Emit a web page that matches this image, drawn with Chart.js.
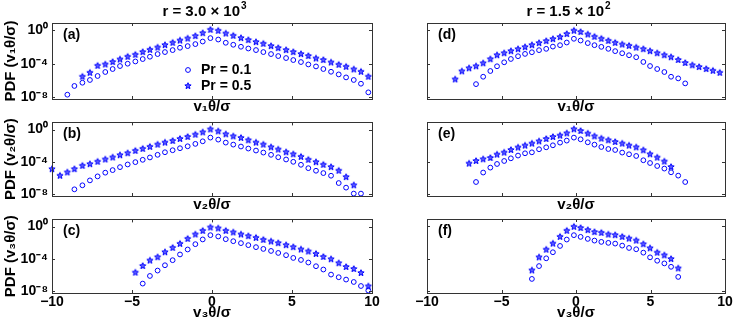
<!DOCTYPE html>
<html>
<head>
<meta charset="utf-8">
<script src="https://cdn.jsdelivr.net/npm/chart.js@4.4.1/dist/chart.umd.min.js"></script>
<style>
  html, body { margin: 0; padding: 0; background: #fff; }
  #fig { position: relative; width: 747px; height: 327px; overflow: hidden; }
  #fig canvas { position: absolute; }
</style>
</head>
<body>
<div id="fig"></div>
<script>
// velocity bins v/sigma (left column: r = 3.0e3, right column: r = 1.5e2)
const binsL = [-10.0, -9.5, -9.04, -8.6, -8.1, -7.63, -7.15, -6.67, -6.21, -5.75, -5.27, -4.79, -4.33, -3.88,
  -3.4, -2.94, -2.46, -2.0, -1.52, -1.04, -0.58, -0.1, 0.39, 0.86, 1.33, 1.81, 2.27, 2.75, 3.21, 3.69,
  4.14, 4.63, 5.08, 5.56, 6.02, 6.5, 6.96, 7.44, 7.92, 8.38, 8.86, 9.31, 9.77];
const binsR = [-8.11, -7.66, -7.18, -6.71, -6.23, -5.75, -5.3, -4.82, -4.37, -3.89, -3.42, -2.96, -2.48,
  -2.0, -1.55, -1.07, -0.62, -0.14, 0.31, 0.79, 1.24, 1.7, 2.17, 2.63, 3.1, 3.56, 4.04, 4.52, 4.97, 5.45,
  5.93, 6.38, 6.86, 7.33, 7.81, 8.26, 8.74, 9.19, 9.65];

// log10 of the PDF (null = no marker in that bin)
const a_pr01 = [null, null, -7.73, -6.68, -6.29, -5.96, -5.48, -5.0, -4.64, -4.28, -4.0, -3.73, -3.44, -3.16,
  -2.84, -2.6, -2.36, -2.08, -1.88, -1.64, -1.33, -0.92, -1.09, -1.48, -1.72, -1.96, -2.17, -2.36, -2.6, -2.84,
  -3.08, -3.32, -3.56, -3.8, -4.09, -4.33, -4.64, -4.97, -5.29, -5.65, -5.96, -6.41, -7.45];
const a_pr05 = [null, null, null, null, -5.57, -5.09, -4.25, -4.09, -3.8, -3.49, -3.17, -2.93, -2.6, -2.33,
  -2.05, -1.76, -1.48, -1.21, -0.97, -0.68, -0.32, 0.08, -0.04, -0.37, -0.64, -0.92, -1.16, -1.4, -1.6, -1.88,
  -2.12, -2.36, -2.6, -2.84, -3.08, -3.37, -3.56, -3.85, -4.13, -4.37, -4.69, -4.97, -5.57];
const b_pr01 = [null, null, null, -7.42, -6.92, -6.31, -5.81, -5.35, -5.03, -4.66, -4.33, -4.04, -3.75, -3.46,
  -3.13, -2.81, -2.56, -2.31, -2.07, -1.77, -1.45, -0.99, -1.24, -1.61, -1.86, -2.1, -2.35, -2.6, -2.85, -3.13,
  -3.43, -3.71, -4.0, -4.37, -4.79, -5.11, -5.4, -5.73, -6.64, -7.21, -7.95, -7.95, null];
const b_pr05 = [-4.91, -5.73, -5.32, -4.91, -4.49, -4.29, -3.99, -3.71, -3.46, -3.18, -2.93, -2.64, -2.39, -2.14,
  -1.86, -1.61, -1.4, -1.15, -0.9, -0.62, -0.34, 0.03, -0.21, -0.58, -0.83, -1.03, -1.32, -1.61, -1.86, -2.19,
  -2.47, -2.81, -3.06, -3.38, -3.75, -4.04, -4.37, -4.66, -5.11, -5.9, -6.92, null, null];
const c_pr01 = [null, null, null, null, null, null, null, null, null, null, null, null, -7.08, -6.13,
  -5.46, -4.8, -4.17, -3.46, -2.84, -2.18, -1.59, -1.06, -1.22, -1.56, -1.81, -2.05, -2.3, -2.55, -2.77, -3.02,
  -3.27, -3.55, -3.89, -4.14, -4.46, -4.92, -5.33, -5.96, -6.29, -6.58, -6.88, -7.38, -7.95];
const c_pr05 = [null, null, null, null, null, null, null, null, null, null, null, -5.71, -4.89, -4.21,
  -3.8, -3.18, -2.64, -2.14, -1.52, -0.97, -0.52, -0.1, -0.22, -0.52, -0.72, -0.97, -1.18, -1.39, -1.64, -1.84,
  -2.05, -2.3, -2.55, -2.84, -3.09, -3.39, -3.76, -4.05, -4.55, -5.01, -5.26, -5.76, -7.42];
const d_pr01 = [null, null, null, -6.46, -5.57, -4.88, -4.31, -3.83, -3.43, -3.1, -2.82, -2.62, -2.37, -2.21,
  -1.94, -1.77, -1.45, -1.0, -1.21, -1.52, -1.77, -1.97, -2.21, -2.49, -2.74, -2.98, -3.22, -3.79, -4.28, -4.64,
  -5.0, -5.57, -5.77, -6.37, null, null, null, null, null];
const d_pr05 = [-5.89, -4.92, -4.55, -4.31, -3.95, -3.46, -2.98, -2.74, -2.49, -2.25, -2.01, -1.77, -1.52, -1.28,
  -1.04, -0.8, -0.43, -0.03, -0.19, -0.48, -0.76, -1.0, -1.25, -1.49, -1.69, -1.85, -2.06, -2.25, -2.49, -2.74,
  -2.98, -3.22, -3.55, -3.91, -4.19, -4.4, -4.64, -4.85, -5.09];
const e_pr01 = [null, null, null, -6.52, -5.35, -4.74, -4.29, -3.92, -3.59, -3.25, -2.97, -2.85, -2.47, -2.23,
  -1.98, -1.65, -1.4, -1.03, -1.24, -1.61, -1.9, -2.19, -2.44, -2.56, -2.88, -3.09, -3.3, -3.83, -4.17, -4.54,
  -4.86, -5.32, -5.73, -6.52, null, null, null, null, null];
const e_pr05 = [null, null, -4.24, -3.92, -3.71, -3.55, -3.13, -2.88, -2.56, -2.26, -2.02, -1.77, -1.49, -1.2,
  -0.95, -0.78, -0.5, 0.0, -0.21, -0.53, -0.87, -1.15, -1.36, -1.57, -1.77, -2.02, -2.23, -2.6, -3.09, -3.5,
  -3.99, -4.66, null, null, null, null, null, null, null];
const f_pr01 = [null, null, null, null, null, null, null, null, null, null, null, -6.51, -4.92, -3.96,
  -3.21, -2.43, -1.64, -1.1, -1.31, -1.56, -1.77, -1.93, -2.05, -2.14, -2.39, -2.68, -2.84, -3.26, -3.84, -4.26,
  -4.59, -5.01, -6.26, null, null, null, null, null, null];
const f_pr05 = [null, null, null, null, null, null, null, null, null, null, null, -5.46, -3.84, -2.89,
  -2.14, -1.31, -0.56, -0.06, -0.22, -0.47, -0.72, -0.81, -1.02, -1.1, -1.31, -1.52, -1.77, -2.22, -2.72, -3.26,
  -3.59, -4.05, -5.21, null, null, null, null, null, null];

const seriesNames = ['Pr = 0.1', 'Pr = 0.5'];
const xTicks = [-10, -5, 0, 5, 10];
const yTicks = [1e-8, 1e-4, 1];
const yTickLabels = ['10\u207B\u2078', '10\u207B\u2074', '10\u2070'];
const colTitles = [['r = 3.0 \u00D7 10', '3'], ['r = 1.5 \u00D7 10', '2']];
const xTitles = ['v\u2081\u03B8/\u03C3', 'v\u2082\u03B8/\u03C3', 'v\u2083\u03B8/\u03C3'];
const yTitles = ['PDF (v\u2081\u03B8/\u03C3)', 'PDF (v\u2082\u03B8/\u03C3)', 'PDF (v\u2083\u03B8/\u03C3)'];

const BLUE = '#0000ff';
const AXIS = '#333';
const FONT = '"Liberation Sans", Arial, Helvetica, sans-serif';

// plot-area geometry (px)
const cols = [{ plotL: 52, plotW: 320, mL: 52 }, { plotL: 403, plotW: 322, mL: 24 }];
const rows = [{ plotT: 23, plotH: 76, mT: 23, mB: 18, titlePad: 1 },
              { plotT: 122, plotH: 74, mT: 12, mB: 20, titlePad: 2 },
              { plotT: 219, plotH: 74, mT: 12, mB: 34, titlePad: 5 }];
const mR = 14;

function makeStar(r) {
  const s = Math.ceil(r * 2 + 3);
  const c = document.createElement('canvas');
  c.width = c.height = s;
  const g = c.getContext('2d');
  g.beginPath();
  for (let i = 0; i < 10; i++) {
    const a = -Math.PI / 2 + i * Math.PI / 5;
    const rr = i % 2 ? r * 0.45 : r;
    g.lineTo(s / 2 + rr * Math.cos(a), s / 2 + rr * Math.sin(a));
  }
  g.closePath();
  g.fillStyle = 'rgba(40,40,255,0.75)';
  g.fill();
  g.strokeStyle = BLUE;
  g.lineWidth = 1;
  g.stroke();
  return c;
}
const star = makeStar(3.3);

function pts(bins, vals) {
  const out = [];
  vals.forEach((v, i) => { if (v !== null) out.push({ x: bins[i], y: Math.pow(10, v) }); });
  return out;
}

// box + inward ticks on all four sides
const framePlugin = {
  id: 'frame',
  afterDraw(chart) {
    const { ctx, chartArea: a, scales } = chart;
    ctx.save();
    ctx.strokeStyle = AXIS;
    ctx.lineWidth = 1;
    ctx.beginPath();
    xTicks.forEach(v => {
      const px = Math.round(scales.x.getPixelForValue(v)) + 0.5;
      ctx.moveTo(px, a.top); ctx.lineTo(px, a.top + 3);
      ctx.moveTo(px, a.bottom); ctx.lineTo(px, a.bottom - 3);
    });
    yTicks.forEach(v => {
      const py = Math.round(scales.y.getPixelForValue(v)) + 0.5;
      ctx.moveTo(a.left, py); ctx.lineTo(a.left + 3, py);
      ctx.moveTo(a.right, py); ctx.lineTo(a.right - 3, py);
    });
    ctx.stroke();
    ctx.strokeRect(Math.round(a.left) + 0.5, Math.round(a.top) + 0.5,
      Math.round(a.right - a.left), Math.round(a.bottom - a.top));
    ctx.restore();
  }
};

// panel letter, column title, legend
const notesPlugin = {
  id: 'notes',
  afterDraw(chart, args, o) {
    const { ctx, chartArea: a } = chart;
    ctx.save();
    ctx.fillStyle = '#000';
    ctx.textBaseline = 'middle';
    ctx.font = 'bold 14px ' + FONT;
    ctx.textAlign = 'left';
    ctx.fillText(o.letter, a.left + 11, a.top + 12);
    if (o.title) {
      ctx.font = 'bold 15px ' + FONT;
      const w1 = ctx.measureText(o.title[0]).width;
      ctx.font = 'bold 10px ' + FONT;
      const w2 = ctx.measureText(o.title[1]).width;
      const x0 = (a.left + a.right) / 2 - 8 - (w1 + w2) / 2;
      ctx.font = 'bold 15px ' + FONT;
      ctx.fillText(o.title[0], x0, 12);
      ctx.font = 'bold 10px ' + FONT;
      ctx.fillText(o.title[1], x0 + w1 + 1, 6);
    }
    if (o.legend) {
      const lx = a.left + 136, ly = a.top + 47;
      ctx.strokeStyle = BLUE;
      ctx.lineWidth = 1;
      ctx.beginPath();
      ctx.arc(lx, ly, 2.4, 0, Math.PI * 2);
      ctx.stroke();
      ctx.drawImage(star, Math.round(lx - star.width / 2), Math.round(ly + 16 - star.height / 2));
      ctx.font = 'bold 14px ' + FONT;
      ctx.fillText(seriesNames[0], lx + 13, ly);
      ctx.fillText(seriesNames[1], lx + 13, ly + 16);
    }
    ctx.restore();
  }
};

const panels = [
  { letter: '(a)', col: 0, row: 0, bins: binsL, lo: a_pr01, hi: a_pr05 },
  { letter: '(b)', col: 0, row: 1, bins: binsL, lo: b_pr01, hi: b_pr05 },
  { letter: '(c)', col: 0, row: 2, bins: binsL, lo: c_pr01, hi: c_pr05 },
  { letter: '(d)', col: 1, row: 0, bins: binsR, lo: d_pr01, hi: d_pr05 },
  { letter: '(e)', col: 1, row: 1, bins: binsR, lo: e_pr01, hi: e_pr05 },
  { letter: '(f)', col: 1, row: 2, bins: binsR, lo: f_pr01, hi: f_pr05 }
];

const fig = document.getElementById('fig');
panels.forEach(p => {
  const c = cols[p.col], r = rows[p.row];
  const cv = document.createElement('canvas');
  const w = c.mL + c.plotW + mR, h = r.mT + r.plotH + r.mB;
  cv.width = w; cv.height = h;
  cv.style.left = (c.plotL - c.mL) + 'px';
  cv.style.top = (r.plotT - r.mT) + 'px';
  cv.style.width = w + 'px'; cv.style.height = h + 'px';
  fig.appendChild(cv);

  new Chart(cv.getContext('2d'), {
    type: 'scatter',
    data: {
      datasets: [
        { label: seriesNames[0], data: pts(p.bins, p.lo), pointStyle: 'circle', pointRadius: 2.4,
          borderColor: BLUE, backgroundColor: 'rgba(0,0,0,0)', borderWidth: 1, clip: false },
        { label: seriesNames[1], data: pts(p.bins, p.hi), pointStyle: star,
          borderColor: BLUE, backgroundColor: BLUE, clip: false }
      ]
    },
    options: {
      responsive: false,
      animation: false,
      devicePixelRatio: 1,
      layout: { padding: { top: r.mT, right: mR, bottom: 0, left: p.col === 0 ? 0 : c.mL } },
      plugins: {
        legend: { display: false },
        tooltip: { enabled: false },
        notes: { letter: p.letter, title: p.row === 0 ? colTitles[p.col] : null, legend: p.col === 0 && p.row === 0 }
      },
      scales: {
        x: {
          type: 'linear', min: -10, max: 10,
          afterBuildTicks: s => { s.ticks = xTicks.map(v => ({ value: v })); },
          afterFit: s => { s.height = r.mB; },
          grid: { display: false, drawTicks: false }, border: { display: false },
          ticks: {
            display: p.row === 2, padding: 1, color: '#000',
            font: { family: FONT, size: 14, weight: 'bold' },
            callback: v => String(v).replace('-', '\u2212')
          },
          title: {
            display: true, text: xTitles[p.row], color: '#000',
            font: { family: FONT, size: 15, weight: 'bold' },
            padding: { top: 0, bottom: r.titlePad }
          }
        },
        y: {
          type: 'logarithmic', display: p.col === 0,
          min: Math.pow(10, -8.25), max: Math.pow(10, 0.9),
          afterBuildTicks: s => { s.ticks = yTicks.map(v => ({ value: v })); },
          afterFit: s => { s.width = c.mL; },
          grid: { display: false, drawTicks: false }, border: { display: false },
          ticks: {
            padding: 4, color: '#000',
            font: { family: FONT, size: 14, weight: 'bold' },
            callback: (v, i) => yTickLabels[i]
          },
          title: {
            display: true, text: yTitles[p.row], color: '#000',
            font: { family: FONT, size: 15, weight: 'bold' },
            padding: { top: 2, bottom: 0 }
          }
        }
      }
    },
    plugins: [framePlugin, notesPlugin]
  });
});
</script>
</body>
</html>
